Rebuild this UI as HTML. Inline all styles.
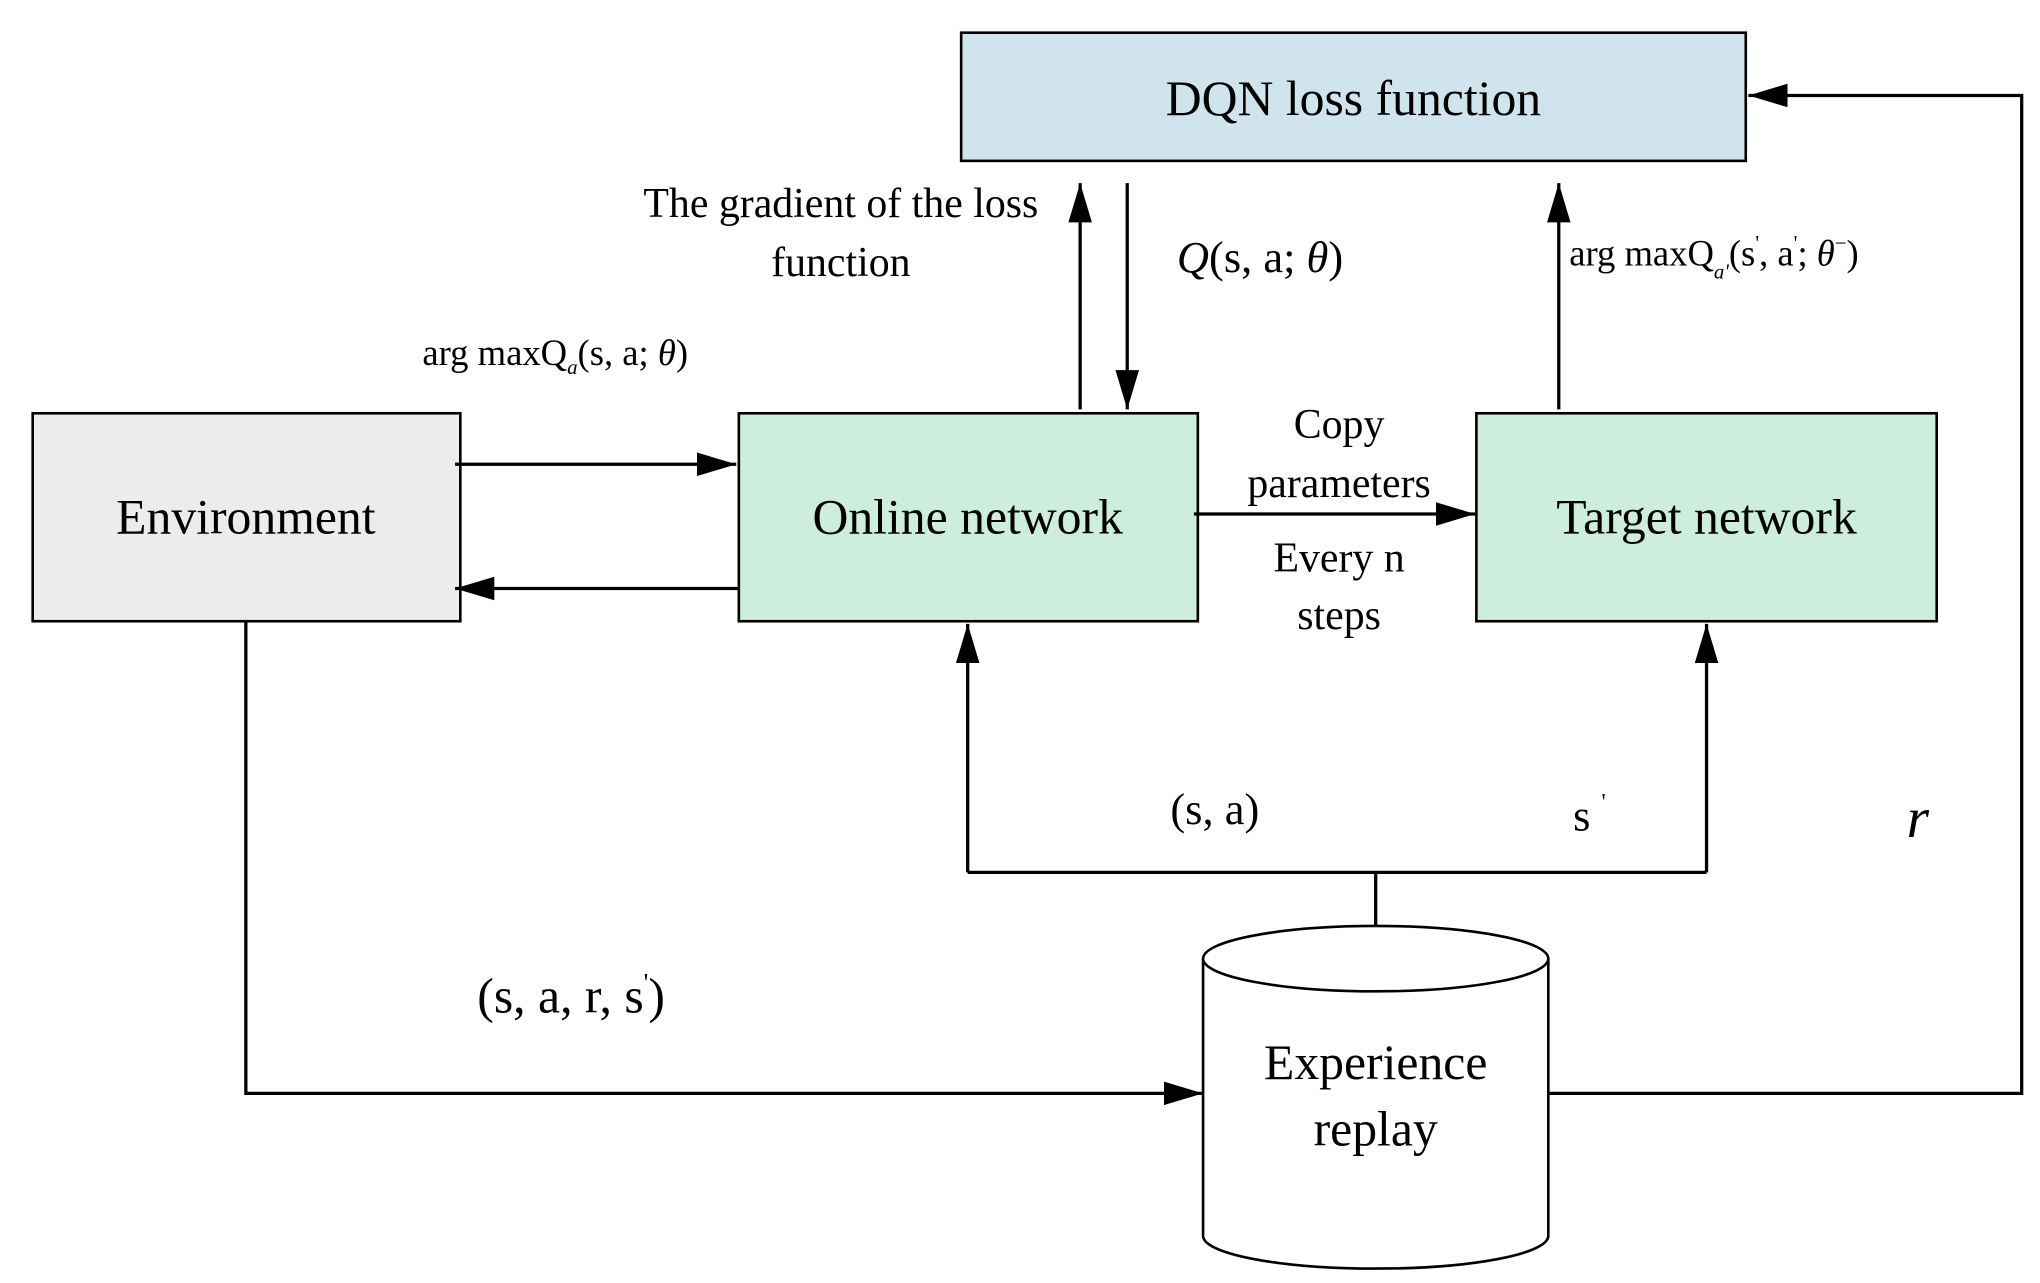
<!DOCTYPE html>
<html><head><style>html,body{margin:0;padding:0;background:#fff}svg{display:block}</style></head>
<body>
<svg width="2040" height="1283" viewBox="0 0 1560 981" preserveAspectRatio="none" xmlns="http://www.w3.org/2000/svg" font-family="'Liberation Serif', serif">
<defs>
<marker id="a" markerWidth="10" markerHeight="8" refX="10" refY="4" orient="auto" markerUnits="userSpaceOnUse" viewBox="0 0 10 8"><path d="M0,0 L10,4 L0,8 z" fill="#000"/></marker>
<marker id="b" markerWidth="30" markerHeight="18" refX="30" refY="9" orient="auto" markerUnits="userSpaceOnUse"><path d="M0,0 L30,9 L0,18 z" fill="#000"/></marker>
</defs>
<g stroke="#000" stroke-width="2">
<rect x="735" y="25" width="600" height="98" fill="#cfe4ed"/>
<rect x="25" y="316" width="327" height="159" fill="#ececec"/>
<rect x="565" y="316" width="351" height="159" fill="#cdeedc"/>
<rect x="1129" y="316" width="352" height="159" fill="#cdeedc"/>
<path d="M920,733 L920,945 A132,25 0 0 0 1184,945 L1184,733" fill="#fff"/>
<ellipse cx="1052" cy="733" rx="132" ry="25" fill="#fff"/>
</g>
<g stroke="#000" stroke-width="2.5" fill="none">
<line x1="826" y1="313" x2="826" y2="140" marker-end="url(#b)"/>
<line x1="862" y1="140" x2="862" y2="313" marker-end="url(#b)"/>
<line x1="1192" y1="313" x2="1192" y2="140" marker-end="url(#b)"/>
<polyline points="1184,836 1546,836 1546,73 1337,73" marker-end="url(#b)"/>
<line x1="348" y1="355" x2="563" y2="355" marker-end="url(#b)"/>
<line x1="565" y1="450" x2="348" y2="450" marker-end="url(#b)"/>
<line x1="913" y1="393" x2="1128" y2="393" marker-end="url(#b)"/>
<polyline points="188,475 188,836 920,836" marker-end="url(#b)"/>
<line x1="1052" y1="708" x2="1052" y2="667"/>
<polyline points="740,667 1305,667"/>
<line x1="740" y1="667" x2="740" y2="477" marker-end="url(#b)"/>
<line x1="1305" y1="667" x2="1305" y2="477" marker-end="url(#b)"/>
</g>
<g fill="#000" text-anchor="middle" font-size="38">
<text x="1035" y="88">DQN loss function</text>
<text x="188" y="408">Environment</text>
<text x="740" y="408">Online network</text>
<text x="1305" y="408">Target network</text>
<text x="1052" y="825">Experience</text>
<text x="1052" y="876">replay</text>
</g>
<g fill="#000" text-anchor="middle" font-size="32">
<text x="643" y="166">The gradient of the loss</text>
<text x="643" y="211">function</text>
<text x="1024" y="335">Copy</text>
<text x="1024" y="380">parameters</text>
<text x="1024" y="437">Every n</text>
<text x="1024" y="481">steps</text>
</g>
<g fill="#000" font-size="34">
<text x="900" y="208"><tspan font-style="italic">Q</tspan>(s, a; <tspan font-style="italic">θ</tspan>)</text>
<text x="895" y="630">(s, a)</text>
<text x="1203" y="635">s <tspan font-size="18" dy="-16">'</tspan></text>
<text x="1458" y="640" font-size="44" font-style="italic">r</text>
<text x="365" y="774" font-size="38">(s, a, r, s<tspan font-size="20" dy="-16">'</tspan><tspan dy="16">)</tspan></text>
</g>
<g fill="#000" font-size="28">
<text x="323" y="279">arg maxQ<tspan font-size="16" dy="7" font-style="italic">a</tspan><tspan dy="-7">(s, a; </tspan><tspan font-style="italic">θ</tspan>)</text>
<text x="1200" y="203">arg maxQ<tspan font-size="16" dy="10" font-style="italic">a'</tspan><tspan dy="-10">(s</tspan><tspan font-size="16" dy="-12">'</tspan><tspan dy="12">, a</tspan><tspan font-size="16" dy="-12">'</tspan><tspan dy="12">; </tspan><tspan font-style="italic">θ</tspan><tspan font-size="16" dy="-12">−</tspan><tspan dy="12">)</tspan></text>
</g>
</svg>
</body></html>
